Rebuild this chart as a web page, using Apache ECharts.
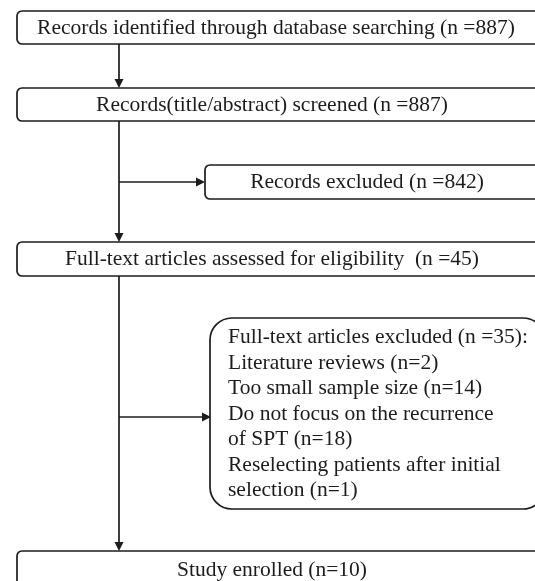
<!DOCTYPE html>
<html><head><meta charset="utf-8">
<script src="https://cdn.jsdelivr.net/npm/echarts@6/dist/echarts.min.js"></script>
<style>html,body{margin:0;padding:0;background:#fff}#c{width:535px;height:581px}</style>
</head><body><div id="c"></div>
<script>
// ---- data ----
const stageTexts = [
  'Records identified through database searching (n =887)',
  'Records(title/abstract) screened (n =887)',
  'Full-text articles assessed for eligibility  (n =45)',
  'Study enrolled (n=10)'
];
const screenExcludedText = 'Records excluded (n =842)';
const fullTextExcludedHeader = 'Full-text articles excluded (n =35):';
const excludedReasons = ['Literature reviews', 'Too small sample size', 'Do not focus on the recurrence\nof SPT', 'Reselecting patients after initial\nselection'];
const excludedCounts = [2, 14, 18, 1];

// ---- layout (pixel space of the hidden axes) ----
const boxes = [
  {x0: 17, y0: 11, x1: 545, y1: 44, r: 5, tx: 276, ty: 28.5, align: 'center', text: stageTexts[0]},
  {x0: 17, y0: 88, x1: 545, y1: 121, r: 5, tx: 272, ty: 105.5, align: 'center', text: stageTexts[1]},
  {x0: 205, y0: 165, x1: 545, y1: 199, r: 5, tx: 367, ty: 182.5, align: 'center', text: screenExcludedText},
  {x0: 17, y0: 242, x1: 545, y1: 276, r: 5, tx: 272, ty: 259.5, align: 'center', text: stageTexts[2]},
  {x0: 210, y0: 318, x1: 545, y1: 509, r: 22, tx: 228, ty: 325, align: 'left',
    text: [fullTextExcludedHeader].concat(excludedReasons.map((r, i) => r + ' (n=' + excludedCounts[i] + ')')).join('\n')},
  {x0: 17, y0: 551, x1: 545, y1: 610, r: 5, tx: 272, ty: 570.5, align: 'center', text: stageTexts[3]}
];
const arrows = [
  [[119, 44], [119, 88]],
  [[119, 121], [119, 242]],
  [[119, 182], [205, 182]],
  [[119, 276], [119, 551]],
  [[119, 417], [211, 417]]
];
const INK = '#1c1c1c';
const FONT = '"Liberation Serif", "DejaVu Serif", serif';

const chart = echarts.init(document.getElementById('c'), null, {renderer: 'canvas'});
chart.setOption({
  animation: false,
  grid: {left: 0, right: 0, top: 0, bottom: 0},
  xAxis: {type: 'value', min: 0, max: 535, show: false},
  yAxis: {type: 'value', min: 0, max: 581, inverse: true, show: false},
  series: [
    {
      type: 'custom',
      coordinateSystem: 'cartesian2d',
      data: arrows.map((a, i) => [i]),
      renderItem: function (params, api) {
        const a = arrows[params.dataIndex];
        const p0 = api.coord(a[0]);
        const p1 = api.coord(a[1]);
        const dx = p1[0] - p0[0], dy = p1[1] - p0[1];
        const len = Math.sqrt(dx * dx + dy * dy);
        const ux = dx / len, uy = dy / len;
        const hl = 9, hw = 4.5;
        const bx = p1[0] - ux * hl, by = p1[1] - uy * hl;
        return {
          type: 'group',
          children: [
            {type: 'line', shape: {x1: p0[0], y1: p0[1], x2: bx, y2: by}, style: {stroke: INK, lineWidth: 1.7}},
            {type: 'polygon', shape: {points: [[p1[0], p1[1]], [bx - uy * hw, by + ux * hw], [bx + uy * hw, by - ux * hw]]}, style: {fill: INK}}
          ]
        };
      }
    },
    {
      type: 'custom',
      coordinateSystem: 'cartesian2d',
      data: boxes.map((b, i) => [i]),
      renderItem: function (params, api) {
        const b = boxes[params.dataIndex];
        const tl = api.coord([b.x0, b.y0]);
        const br = api.coord([b.x1, b.y1]);
        const t = api.coord([b.tx, b.ty]);
        return {
          type: 'group',
          children: [
            {type: 'rect', shape: {x: tl[0], y: tl[1], width: br[0] - tl[0], height: br[1] - tl[1], r: b.r},
              style: {fill: '#fff', stroke: INK, lineWidth: 1.7}},
            {type: 'text', x: t[0], y: t[1],
              style: {text: b.text, fill: INK, font: '21.5px ' + FONT, align: b.align,
                verticalAlign: b.align === 'center' ? 'middle' : 'top', lineHeight: 25.5}}
          ]
        };
      }
    }
  ]
});
</script>
</body></html>
